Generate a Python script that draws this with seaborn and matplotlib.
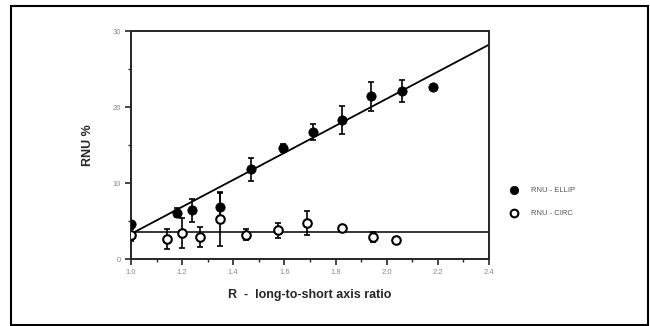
import numpy as np
import pandas as pd
import seaborn as sns
import matplotlib.pyplot as plt
from matplotlib.patches import Rectangle

# RNU - ELLIP (filled circles)
ellip_x = [1.00, 1.18, 1.24, 1.35, 1.47, 1.595, 1.71, 1.825, 1.94, 2.06, 2.18]
ellip_y = [4.6, 6.1, 6.4, 6.8, 11.8, 14.6, 16.7, 18.3, 21.4, 22.1, 22.6]
ellip_err = [0.4, 0.6, 1.5, 2.0, 1.5, 0.5, 1.1, 1.8, 1.9, 1.5, 0.3]

# RNU - CIRC (open circles)
circ_x = [1.00, 1.14, 1.20, 1.27, 1.35, 1.45, 1.575, 1.69, 1.825, 1.945, 2.035]
circ_y = [3.2, 2.6, 3.4, 2.9, 5.2, 3.2, 3.8, 4.7, 4.1, 2.9, 2.5]
circ_err = [0.8, 1.3, 2.0, 1.3, 3.5, 0.7, 1.0, 1.6, 0.3, 0.6, 0.4]

# regression line for ELLIP and mean line for CIRC
fit_x = [1.0, 2.4]
fit_y = [3.3, 28.2]
circ_mean = 3.6

x_ticks = [1.0, 1.2, 1.4, 1.6, 1.8, 2.0, 2.2, 2.4]
y_ticks = [0, 10, 20, 30]

sns.set_style("ticks")
plt.rcParams['font.family'] = ['Liberation Sans', 'DejaVu Sans']

fig = plt.figure(figsize=(6.5, 3.26), dpi=100)
ax = fig.add_axes([0.2015, 0.2055, 0.5508, 0.6994])

ellip = pd.DataFrame({"x": ellip_x, "y": ellip_y, "err": ellip_err})
circ = pd.DataFrame({"x": circ_x, "y": circ_y, "err": circ_err})
fit = pd.DataFrame({"x": fit_x, "y": fit_y})

sns.lineplot(data=fit, x="x", y="y", color="black", lw=1.3, ax=ax)
ax.axhline(circ_mean, color="black", lw=1.1)

ax.errorbar(ellip.x, ellip.y, yerr=ellip.err, fmt="none", ecolor="black",
            elinewidth=1.2, capsize=2.5, capthick=1.2)
ax.errorbar(circ.x, circ.y, yerr=circ.err, fmt="none", ecolor="black",
            elinewidth=1.2, capsize=2.5, capthick=1.2)
sns.scatterplot(data=ellip, x="x", y="y", s=45, color="black", edgecolor="black",
                label="RNU - ELLIP", ax=ax, zorder=5)
sns.scatterplot(data=circ, x="x", y="y", s=38, color="white", edgecolor="black",
                linewidth=1.5, label="RNU - CIRC", ax=ax, zorder=5)

ax.set_xlim(1.0, 2.4)
ax.set_ylim(0, 30)
ax.set_xticks(x_ticks)
ax.set_xticklabels([f"{t:.1f}" for t in x_ticks])
ax.set_yticks(y_ticks)
ax.set_xticks(np.arange(1.1, 2.4, 0.2), minor=True)
ax.set_yticks([5, 15, 25], minor=True)
ax.tick_params(axis="both", which="major", labelsize=5.5, labelcolor="#888888",
               length=4, width=1.2, direction="out")
ax.tick_params(axis="both", which="minor", length=2.5, width=1.0, direction="out")
for s in ax.spines.values():
    s.set_visible(True)
    s.set_linewidth(1.4)

ax.set_xlabel("R  -  long-to-short axis ratio", fontsize=9, fontweight="bold", labelpad=9)
ax.set_ylabel("RNU %", fontsize=9, fontweight="bold", labelpad=13)

ax.legend(loc="center left", bbox_to_anchor=(1.028, 0.25), frameon=False,
          fontsize=5.5, labelcolor="#555555", handletextpad=1.3, labelspacing=2.0,
          markerscale=0.9)

fig.patches.append(Rectangle((11 / 650, 1 / 326), 637 / 650, 319 / 326,
                             transform=fig.transFigure, fill=False,
                             edgecolor="black", lw=1.5))

fig.savefig("out.png", dpi=100)
